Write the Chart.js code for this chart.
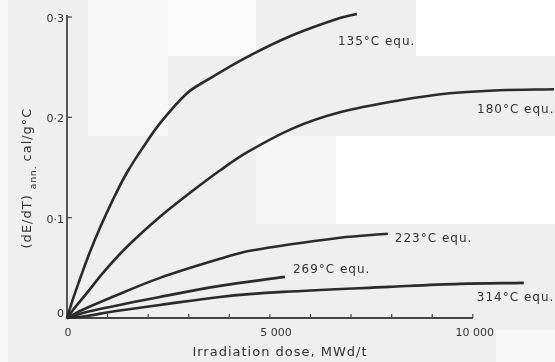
<!DOCTYPE html>
<html>
<head>
<meta charset="utf-8">
<script src="https://cdn.jsdelivr.net/npm/chart.js@4/dist/chart.umd.min.js"></script>
<style>
  html, body { margin: 0; padding: 0; background: #efefef; }
  canvas { display: block; }
</style>
</head>
<body>
<canvas id="c" width="555" height="362"></canvas>
<script>
// ---- Data ----
const seriesNames = ['135°C equ.', '180°C equ.', '223°C equ.', '269°C equ.', '314°C equ.'];

const dose135 = [0, 148, 320, 567, 813, 1133, 1478, 1872, 2291, 2956, 3448, 4433, 5567, 6724, 7143];
const val135  = [0, 0.019, 0.039, 0.066, 0.090, 0.118, 0.145, 0.170, 0.194, 0.224, 0.237, 0.260, 0.282, 0.299, 0.303];

const dose180 = [0, 148, 493, 887, 1478, 2291, 3103, 3768, 4433, 5567, 6724, 8202, 9433, 10665, 12000];
const val180  = [0, 0.008, 0.025, 0.045, 0.071, 0.101, 0.127, 0.147, 0.165, 0.189, 0.205, 0.217, 0.224, 0.227, 0.228];

const dose223 = [0, 320, 1059, 2291, 3768, 4507, 6724, 7906];
const val223  = [0, 0.007, 0.020, 0.040, 0.059, 0.067, 0.080, 0.084];

const dose269 = [0, 394, 1059, 2291, 3768, 5369];
const val269  = [0, 0.005, 0.011, 0.021, 0.032, 0.041];

const dose314 = [0, 493, 1059, 2291, 3768, 5320, 7931, 9680, 11256];
const val314  = [0, 0.002, 0.006, 0.013, 0.021, 0.026, 0.031, 0.034, 0.035];

const doseTicks = [0, 5000, 10000];
const doseTickLabels = ['0', '5 000', '10 000'];
const doseMinorTicks = [1000, 2000, 3000, 4000, 5000, 6000, 7000, 8000, 9000, 10000];
const valueTicks = [0, 0.1, 0.2, 0.3];
const valueTickLabels = ['0', '0·1', '0·2', '0·3'];

const xTitle = 'Irradiation dose, MWd/t';
const yTitleMain = '(dE/dT)';
const yTitleSub = 'ann.';
const yTitleUnit = 'cal/g°C';

// ---- Styling ----
const INK = '#2b2b2b';
const FONT = '"DejaVu Sans", sans-serif';
// label offsets relative to each series' last point (px)
const labelOffsets = [[-19, 28], [-77, 21], [7, 5], [8, -7], [-47, 15]];

const pairs = (xs, ys) => xs.map((x, i) => ({ x: x, y: ys[i] }));
const allDose = [dose135, dose180, dose223, dose269, dose314];
const allVal = [val135, val180, val223, val269, val314];

const datasets = seriesNames.map((name, i) => ({
  label: name,
  data: pairs(allDose[i], allVal[i]),
  borderColor: INK,
  borderWidth: 2.6,
  pointRadius: 0,
  fill: false,
  tension: 0.35,
  clip: false
}));

const bgPlugin = {
  id: 'bg',
  beforeDraw(chart) {
    const ctx = chart.ctx;
    ctx.save();
    ctx.fillStyle = '#efefef';
    ctx.fillRect(0, 0, chart.width, chart.height);
    const blocks = [
      [0, 0, 8, 362, '#f8f8f8'],
      [88, 0, 80, 136, '#f8f8f8'],
      [168, 0, 88, 56, '#fcfcfc'],
      [416, 0, 139, 56, '#ffffff'],
      [256, 136, 80, 88, '#f6f6f6'],
      [336, 136, 219, 88, '#ffffff'],
      [496, 330, 59, 32, '#f8f8f8']
    ];
    blocks.forEach(b => { ctx.fillStyle = b[4]; ctx.fillRect(b[0], b[1], b[2], b[3]); });
    ctx.restore();
  }
};

function spaced(ctx, px) {
  if ('letterSpacing' in ctx) ctx.letterSpacing = px + 'px';
}

const axesPlugin = {
  id: 'axes',
  beforeDatasetsDraw(chart) {
    const ctx = chart.ctx;
    const xs = chart.scales.x, ys = chart.scales.y;
    const x0 = xs.getPixelForValue(0);
    const y0 = ys.getPixelForValue(0);
    ctx.save();
    ctx.strokeStyle = '#444';
    ctx.lineWidth = 1.8;
    // y axis
    ctx.beginPath();
    ctx.moveTo(x0, y0 + 1);
    ctx.lineTo(x0, ys.getPixelForValue(0.3) - 2);
    ctx.stroke();
    // x axis
    ctx.beginPath();
    ctx.moveTo(x0, y0);
    ctx.lineTo(xs.getPixelForValue(10000), y0);
    ctx.stroke();
    ctx.lineWidth = 1.2;
    // y ticks
    valueTicks.forEach(v => {
      if (v === 0) return;
      const y = ys.getPixelForValue(v);
      ctx.beginPath(); ctx.moveTo(x0, y); ctx.lineTo(x0 + 5, y); ctx.stroke();
    });
    // x ticks
    doseMinorTicks.forEach(v => {
      const x = xs.getPixelForValue(v);
      ctx.beginPath(); ctx.moveTo(x, y0); ctx.lineTo(x, y0 - 4); ctx.stroke();
    });
    // tick labels
    ctx.fillStyle = '#333';
    ctx.font = '11px ' + FONT;
    ctx.textAlign = 'right';
    ctx.textBaseline = 'middle';
    valueTicks.forEach((v, i) => {
      ctx.fillText(valueTickLabels[i], x0 - 3, ys.getPixelForValue(v) + (v === 0 ? -4 : 2));
    });
    ctx.textAlign = 'center';
    ctx.textBaseline = 'middle';
    doseTicks.forEach((v, i) => {
      const dx = v === 0 ? 1 : (v === 5000 ? 6 : 2);
      ctx.fillText(doseTickLabels[i], xs.getPixelForValue(v) + dx, y0 + 15);
    });
    // x title
    ctx.font = '13px ' + FONT;
    spaced(ctx, 1);
    ctx.fillText(xTitle, 280, 353);
    // y title (rotated)
    ctx.save();
    ctx.translate(28, 178);
    ctx.rotate(-Math.PI / 2);
    ctx.textAlign = 'left';
    ctx.textBaseline = 'middle';
    ctx.font = '13px ' + FONT;
    const wMain = ctx.measureText(yTitleMain + ' ').width;
    ctx.font = '9px ' + FONT;
    const wSub = ctx.measureText(yTitleSub + ' ').width;
    ctx.font = '13px ' + FONT;
    const wUnit = ctx.measureText(yTitleUnit).width;
    let start = -(wMain + wSub + wUnit) / 2;
    ctx.fillText(yTitleMain, start, 0);
    ctx.font = '9px ' + FONT;
    ctx.fillText(yTitleSub, start + wMain, 6);
    ctx.font = '13px ' + FONT;
    ctx.fillText(yTitleUnit, start + wMain + wSub, 0);
    ctx.restore();
    ctx.restore();
  },
  afterDatasetsDraw(chart) {
    const ctx = chart.ctx;
    const xs = chart.scales.x, ys = chart.scales.y;
    ctx.save();
    ctx.fillStyle = '#333';
    ctx.font = '12px ' + FONT;
    spaced(ctx, 1);
    ctx.textAlign = 'left';
    ctx.textBaseline = 'middle';
    seriesNames.forEach((name, i) => {
      const d = allDose[i], v = allVal[i];
      const px = xs.getPixelForValue(d[d.length - 1]);
      const py = ys.getPixelForValue(v[v.length - 1]);
      ctx.fillText(name, px + labelOffsets[i][0], py + labelOffsets[i][1]);
    });
    ctx.restore();
  }
};

new Chart(document.getElementById('c'), {
  type: 'line',
  data: { datasets: datasets },
  options: {
    responsive: false,
    animation: false,
    devicePixelRatio: 1,
    layout: { padding: { left: 67, right: 1, top: 17, bottom: 44 } },
    scales: {
      x: { type: 'linear', min: 0, max: 12000, display: false },
      y: { type: 'linear', min: 0, max: 0.3, display: false }
    },
    plugins: { legend: { display: false }, tooltip: { enabled: false } }
  },
  plugins: [bgPlugin, axesPlugin]
});
</script>
</body>
</html>
